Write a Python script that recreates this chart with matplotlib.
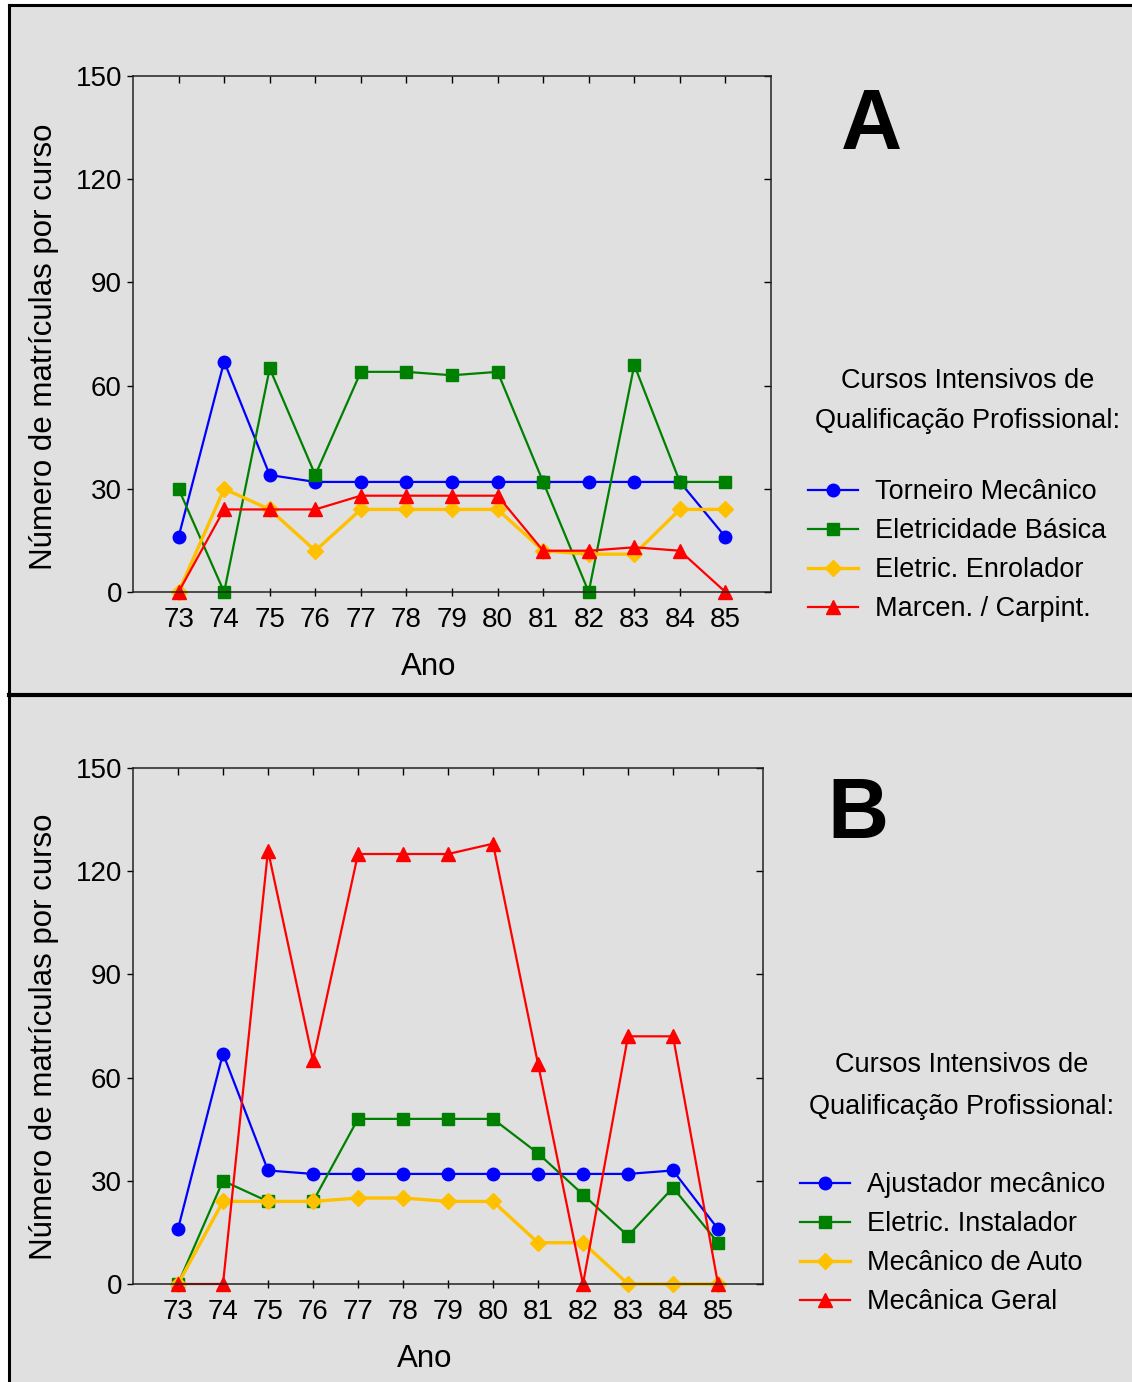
import matplotlib
matplotlib.use("Agg")
import matplotlib.pyplot as plt
from matplotlib.patches import Rectangle
from matplotlib.lines import Line2D

plt.rcParams['font.family'] = ['Liberation Sans', 'DejaVu Sans']

anos = [73, 74, 75, 76, 77, 78, 79, 80, 81, 82, 83, 84, 85]
y_ticks = [0, 30, 60, 90, 120, 150]

# Panel A
torneiro = [16, 67, 34, 32, 32, 32, 32, 32, 32, 32, 32, 32, 16]
eletricidade = [30, 0, 65, 34, 64, 64, 63, 64, 32, 0, 66, 32, 32]
enrolador = [0, 30, 24, 12, 24, 24, 24, 24, 12, 11, 11, 24, 24]
marcen = [0, 24, 24, 24, 28, 28, 28, 28, 12, 12, 13, 12, 0]
labels_a = ["Torneiro Mecânico", "Eletricidade Básica", "Eletric. Enrolador", "Marcen. / Carpint."]

# Panel B
ajustador = [16, 67, 33, 32, 32, 32, 32, 32, 32, 32, 32, 33, 16]
instalador = [0, 30, 24, 24, 48, 48, 48, 48, 38, 26, 14, 28, 12]
mec_auto = [0, 24, 24, 24, 25, 25, 24, 24, 12, 12, 0, 0, 0]
mec_geral = [0, 0, 126, 65, 125, 125, 125, 128, 64, 0, 72, 72, 0]
labels_b = ["Ajustador mecânico", "Eletric. Instalador", "Mecânico de Auto", "Mecânica Geral"]

titulo_legenda = "Cursos Intensivos de\nQualificação Profissional:"

BG = '#e0e0e0'
styles = [
    dict(color='#0000ff', marker='o', markersize=9, lw=1.6),
    dict(color='#008000', marker='s', markersize=8.5, lw=1.6),
    dict(color='#ffc000', marker='D', markersize=8, lw=2.4),
    dict(color='#ff0000', marker='^', markersize=10, lw=1.6),
]

TICK_FS = 20
LABEL_FS = 22.5
LEG_FS = 19.5

W, H = 1132, 1382
fig = plt.figure(figsize=(W / 100, H / 100), dpi=100, facecolor='white')

# background and frame
fig.patches.append(Rectangle((9 / W, 0), 1 - 9 / W, 1 - 5 / H, transform=fig.transFigure,
                             facecolor=BG, edgecolor='none', zorder=-10))
fig.add_artist(Line2D([9 / W, 9 / W], [0, 1 - 5 / H], transform=fig.transFigure, color='black', lw=2.2))
fig.add_artist(Line2D([9 / W, 1], [1 - 5 / H, 1 - 5 / H], transform=fig.transFigure, color='black', lw=2.2))
fig.add_artist(Line2D([9 / W, 1], [1 - 695 / H, 1 - 695 / H], transform=fig.transFigure, color='black', lw=3))


def panel(rect, series, labels, letter, letter_xy, title_xy, leg_xy, title_gap, ylab_y, xlab_x):
    ax = fig.add_axes(rect)
    ax.set_facecolor(BG)
    for s, lab, st in zip(series, labels, styles):
        ax.plot(anos, s, label=lab, clip_on=False, **st)
    ax.set_xlim(72, 86)
    ax.set_ylim(0, 150)
    ax.set_xticks(anos)
    ax.set_xticklabels([str(a) for a in anos])
    ax.set_yticks(y_ticks)
    ax.tick_params(axis='both', labelsize=TICK_FS, color='black', width=1)
    ax.tick_params(axis='x', direction='inout', length=6, top=True, pad=8)
    ax.tick_params(axis='y', direction='out', length=4, right=True, pad=4)
    for sp in ax.spines.values():
        sp.set_linewidth(1.1)
        sp.set_color('#222222')
    for t in ax.xaxis.get_major_ticks():
        t.tick2line.set_marker(3)  # TICKDOWN
        t.tick2line.set_markersize(5)
    for t in ax.yaxis.get_major_ticks():
        t.tick2line.set_marker(0)  # TICKLEFT
        t.tick2line.set_markersize(5)
    ax.set_xlabel("Ano", fontsize=LABEL_FS)
    ax.set_ylabel("Número de matrículas por curso", fontsize=LABEL_FS)
    ax.yaxis.set_label_coords(-(133 - 59) / (rect[2] * W), ylab_y)
    ax.xaxis.set_label_coords((xlab_x - 133) / (rect[2] * W), -60 / 516)
    fig.text(letter_xy[0] / W, 1 - letter_xy[1] / H, letter, fontsize=61, fontweight='bold',
             ha='center', va='center')
    fig.text(title_xy[0] / W, 1 - title_xy[1] / H, titulo_legenda, fontsize=LEG_FS,
             ha='center', va='center', linespacing=title_gap)
    ax.legend(loc='upper left', bbox_to_anchor=(leg_xy[0] / W, 1 - leg_xy[1] / H),
              bbox_transform=fig.transFigure, frameon=False, fontsize=LEG_FS,
              handlelength=1.85, handletextpad=0.63, labelspacing=0.48,
              borderpad=0, borderaxespad=0)
    return ax


panel([133 / W, 1 - 592 / H, (771 - 133) / W, 516 / H],
      [torneiro, eletricidade, enrolador, marcen], labels_a,
      'A', (872, 127), (968, 401), (808, 479), 1.73, 0.475, 429)
panel([133 / W, 1 - 1284 / H, (763 - 133) / W, 516 / H],
      [ajustador, instalador, mec_auto, mec_geral], labels_b,
      'B', (858, 816), (962, 1086), (800, 1172), 1.8, 0.479, 425)

fig.savefig('out.png', dpi=100, facecolor='white')
